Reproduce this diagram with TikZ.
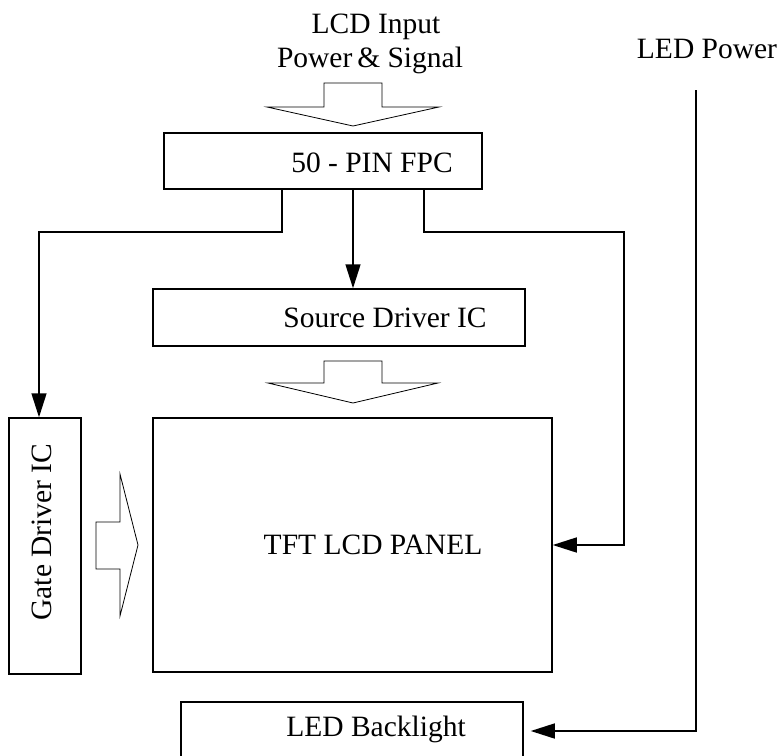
\documentclass[tikz,border=0pt]{standalone}
\usepackage{fontspec}
\setmainfont{Liberation Serif}
\usetikzlibrary{arrows.meta}
\begin{document}
\begin{tikzpicture}[x=1pt,y=-1pt,
  box/.style={draw,line width=1.5pt,inner sep=0pt},
  txt/.style={inner sep=0pt,font=\fontsize{29.5}{35}\selectfont},
  conn/.style={line width=1.5pt},
  arr/.style={line width=1.5pt,-{Triangle[length=24pt,width=15pt]}},
  blk/.style={draw,line width=0.8pt,line join=miter,fill=white}]
\useasboundingbox (0,0) rectangle (781,755);
% boxes
\node[box,minimum width=318pt,minimum height=56pt] (fpc) at (323,161) {};
\node[box,minimum width=372pt,minimum height=57pt] (src) at (339,317.5) {};
\node[box,minimum width=72pt,minimum height=256pt] (gate) at (45,546) {};
\node[box,minimum width=399pt,minimum height=254pt] (tft) at (352.5,545) {};
\node[box,minimum width=342pt,minimum height=58pt] (led) at (352,731) {};
% box texts
\node[txt] (fpct) at (372,163) {50 - PIN FPC};
\node[txt] (srct) at (385,318) {Source Driver IC};
\node[txt,rotate=90] (gatet) at (42,532) {Gate Driver IC};
\node[txt] (tftt) at (373,545) {TFT LCD PANEL};
\node[txt] (ledt) at (376,729) {LED Backlight};
% free texts
\node[txt,anchor=base] (in1) at (376,33) {LCD Input};
\node[txt,anchor=base] (in2) at (370,67) {Power\,\& Signal};
\node[txt,anchor=base] (ledp) at (707,58) {LED Power};
% block arrows
\draw[blk] (324,83) -- (382,83) -- (382,107) -- (439,107) -- (353,126) -- (267,107) -- (324,107) -- cycle;
\draw[blk] (324,361) -- (382,361) -- (382,383) -- (438,383) -- (353,403) -- (268,383) -- (324,383) -- cycle;
\draw[blk] (96,522) -- (120,522) -- (120,474) -- (138,545) -- (120,616) -- (120,569) -- (96,569) -- cycle;
% connectors
\coordinate (bl) at (39,232);
\coordinate (br) at (624,232);
\coordinate (lp) at (696,90);
\draw[arr] (fpc.south -| 282,0) |- (bl) -- (bl |- gate.north);
\draw[arr] (fpc.south -| 353,0) -- (src.north -| 353,0);
\draw[arr] (fpc.south -| 424,0) |- (br) |- (tft.east);
\draw[arr] (lp) |- ([xshift=7pt]led.east);
\end{tikzpicture}
\end{document}
